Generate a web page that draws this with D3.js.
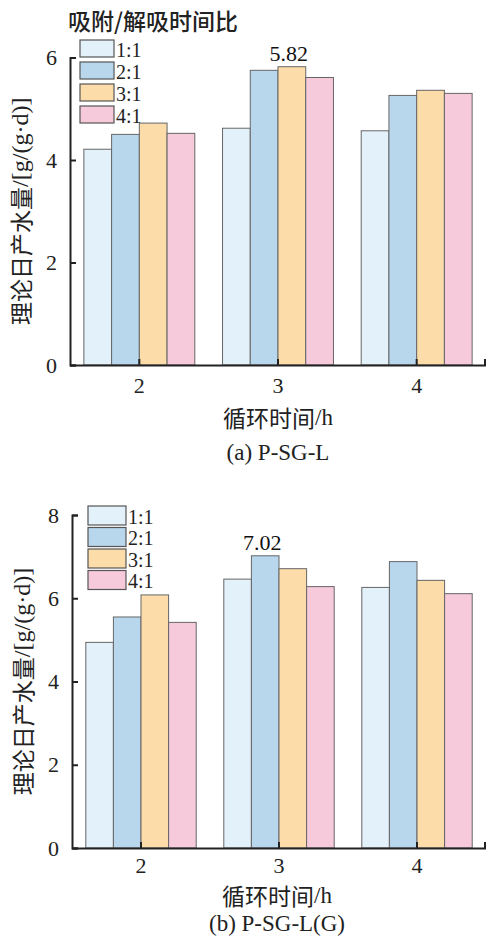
<!DOCTYPE html>
<html><head><meta charset="utf-8">
<script src="https://cdn.jsdelivr.net/npm/d3@7"></script>
<style>body{margin:0;background:#fff}svg{display:block}</style>
</head><body>
<script>
const categories = ["2", "3", "4"];
const seriesNames = ["1:1", "2:1", "3:1", "4:1"];
const valuesA = {
  "1:1": [4.21, 4.62, 4.57],
  "2:1": [4.50, 5.75, 5.26],
  "3:1": [4.72, 5.82, 5.36],
  "4:1": [4.52, 5.61, 5.30]
};
const valuesB = {
  "1:1": [4.94, 6.46, 6.26],
  "2:1": [5.55, 7.02, 6.88],
  "3:1": [6.08, 6.71, 6.43],
  "4:1": [5.42, 6.28, 6.11]
};
const yTicksA = [0, 2, 4, 6];
const yTicksB = [0, 2, 4, 6, 8];
const colors = ["#e3f1fa", "#b8d6ec", "#fcdca9", "#f6c9db"];
const legendTitle = "吸附/解吸时间比";
const xTitleCJK = "循环时间";
const xTitleUnit = "/h";
const yTitleCJK = "理论日产水量";
const yTitleUnit = "/[g/(g·d)]";
const captionA = "(a) P-SG-L";
const captionB = "(b) P-SG-L(G)";
const annotA = {cat: "3", series: "3:1", text: "5.82"};
const annotB = {cat: "3", series: "2:1", text: "7.02"};

const W = 486, H = 941;
const svg = d3.select("body").append("svg").attr("width", W).attr("height", H);
const serif = "Liberation Serif, Times New Roman, DejaVu Serif, serif";
const cjk = "Noto Sans CJK SC, Noto Sans, sans-serif";

function panel(opt) {
  const g = svg.append("g");
  const x = d3.scaleBand().domain(categories).range([opt.x0, opt.x1]).paddingInner(0.2).paddingOuter(0.1);
  const xs = d3.scaleBand().domain(seriesNames).range([0, x.bandwidth()]);
  const y = d3.scaleLinear().domain([0, opt.ymax]).range([opt.y0, opt.y1]);

  seriesNames.forEach((s, si) => {
    g.selectAll(null).data(categories.map((c, i) => ({c, v: opt.values[s][i]})))
      .enter().append("rect")
      .attr("x", d => x(d.c) + xs(s))
      .attr("y", d => y(d.v))
      .attr("width", xs.bandwidth())
      .attr("height", d => y(0) - y(d.v))
      .attr("fill", colors[si])
      .attr("stroke", "#666").attr("stroke-width", 1);
  });

  const a = opt.annot;
  const ai = categories.indexOf(a.cat);
  g.append("text").attr("x", x(a.cat) + xs(a.series) + xs.bandwidth() / 2 - 3)
    .attr("y", y(opt.values[a.series][ai]) - 6)
    .attr("text-anchor", "middle").style("font-family", serif).attr("font-size", 22)
    .attr("fill", "#111").text(a.text);

  const ya = g.append("g").attr("transform", `translate(${opt.x0},0)`)
    .call(d3.axisLeft(y).tickValues(opt.yTicks).tickSize(-6).tickPadding(13).tickFormat(d3.format("d")));
  ya.attr("font-family", null);
  ya.select(".domain").attr("stroke", "#222").attr("stroke-width", 2);
  ya.selectAll(".tick line").attr("stroke", "#222").attr("stroke-width", 2);
  ya.selectAll(".tick text").style("font-family", serif).attr("font-size", 22).attr("fill", "#222");

  const xa = g.append("g").attr("transform", `translate(0,${opt.y0})`)
    .call(d3.axisBottom(x).tickSize(-6).tickPadding(opt.xPad).tickSizeOuter(0));
  xa.attr("font-family", null);
  xa.select(".domain").attr("stroke", "#222").attr("stroke-width", 2.2);
  xa.selectAll(".tick line").attr("stroke", "#222").attr("stroke-width", 2);
  xa.selectAll(".tick text").style("font-family", serif).attr("font-size", 22).attr("fill", "#222");
  g.append("line").attr("x1", opt.x1 - 1).attr("x2", opt.x1 - 1).attr("y1", opt.y0).attr("y2", opt.y0 - 6)
    .attr("stroke", "#222").attr("stroke-width", 2);

  const L = opt.legend;
  if (L.title) {
    g.append("text").attr("x", L.titleX).attr("y", L.titleY).attr("dominant-baseline", "central")
      .style("font-family", cjk).attr("font-size", 23).attr("font-weight", 500).attr("fill", "#222")
      .text(L.title);
  }
  seriesNames.forEach((s, si) => {
    const yy = L.y + si * L.step;
    g.append("rect").attr("x", L.x).attr("y", yy).attr("width", L.w).attr("height", L.h)
      .attr("fill", colors[si]).attr("stroke", "#555").attr("stroke-width", 1.2);
    g.append("text").attr("x", L.x + L.w + 2).attr("y", yy + L.h / 2 + 1).attr("dominant-baseline", "central")
      .style("font-family", serif).attr("font-size", 20).attr("fill", "#222").text(s);
  });

  const xt = g.append("text").attr("x", opt.xTitleX).attr("y", opt.xTitleY).attr("text-anchor", "middle")
    .attr("dominant-baseline", "central").attr("font-size", 23).attr("fill", "#222");
  xt.append("tspan").style("font-family", cjk).text(xTitleCJK);
  xt.append("tspan").style("font-family", serif).text(xTitleUnit);

  const yt = g.append("text").attr("transform", `translate(${opt.yTitleX},${(opt.y0 + opt.y1) / 2}) rotate(-90)`)
    .attr("text-anchor", "middle").attr("dominant-baseline", "central").attr("font-size", 23).attr("fill", "#222");
  yt.append("tspan").style("font-family", cjk).text(yTitleCJK);
  yt.append("tspan").style("font-family", serif).attr("font-size", 24).text(yTitleUnit);

  g.append("text").attr("x", opt.xTitleX).attr("y", opt.capY).attr("text-anchor", "middle")
    .attr("dominant-baseline", "central").style("font-family", serif).attr("font-size", 23).attr("fill", "#222")
    .text(opt.caption);
}

panel({
  values: valuesA, yTicks: yTicksA, ymax: 6, x0: 70, x1: 486, y0: 365, y1: 57.5, xPad: 12,
  annot: annotA,
  legend: {title: legendTitle, titleX: 68, titleY: 20, x: 80, y: 40, w: 34, h: 17, step: 22},
  xTitleX: 278, xTitleY: 417, yTitleX: 20, capY: 452, caption: captionA
});
panel({
  values: valuesB, yTicks: yTicksB, ymax: 8, x0: 72, x1: 486, y0: 848, y1: 515, xPad: 9,
  annot: annotB,
  legend: {title: null, x: 88, y: 506, w: 38, h: 19, step: 21.5},
  xTitleX: 277, xTitleY: 895, yTitleX: 22, capY: 923, caption: captionB
});
</script>
</body></html>
